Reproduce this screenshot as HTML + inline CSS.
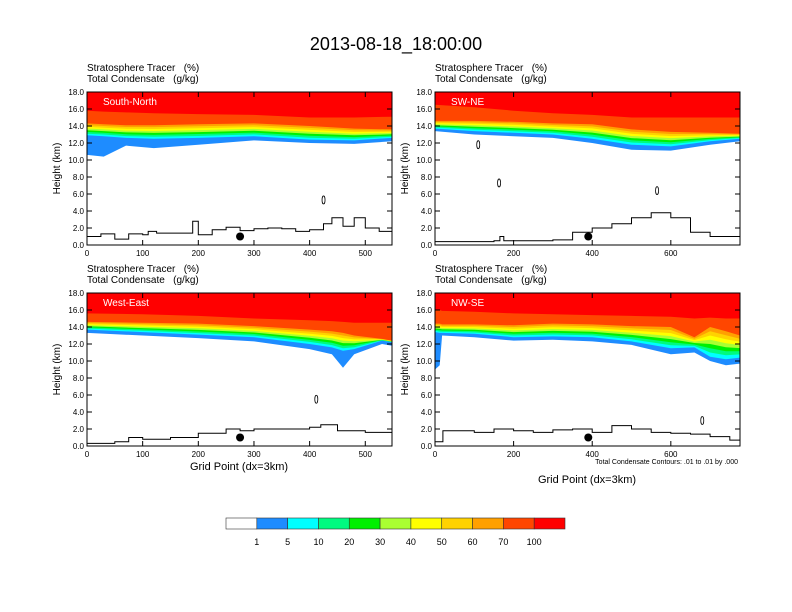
<!DOCTYPE html>
<html><head><meta charset="utf-8"><style>
body{margin:0;background:#fff}
svg{display:block;font-family:"Liberation Sans",sans-serif}
</style></head><body>
<svg id="c" width="792" height="612" viewBox="0 0 792 612">
<text x="396" y="50" font-size="18" text-anchor="middle">2013-08-18_18:00:00</text>
</svg>
<script>
const colors=["#ffffff","#1e8cff","#00ffff","#00fa80","#00f000","#aaff32","#ffff00","#ffd200","#ffa000","#ff4600","#ff0000"];
const cbLabels=["1","5","10","20","30","40","50","60","70","100"];
const panelNames=["South-North","SW-NE","West-East","NW-SE"];
const xMax=[548,776,548,776];
const xTicks=[[0,100,200,300,400,500],[0,200,400,600],[0,100,200,300,400,500],[0,200,400,600]];
const yTicks=[0,2,4,6,8,10,12,14,16,18];
// band boundaries: [x, blueBottom, cyanBottom, orangeBottom, redBottom]
const bands0=[[0,10.6,12.9,14.3,15.8],[30,10.4,12.8,14.2,15.7],[70,11.7,12.6,14.1,15.6],[120,11.4,12.5,14.1,15.5],[200,11.8,12.6,14.2,15.4],[300,12.3,12.8,14.3,15.3],[400,12.0,12.4,14.0,15.0],[480,11.9,12.3,13.7,15.0],[548,12.2,12.6,13.6,15.1]];
const bands1=[[0,13.4,13.7,14.6,16.5],[100,13.0,13.4,14.6,16.2],[200,12.8,13.2,14.5,15.8],[300,12.6,13.0,14.3,15.5],[400,12.0,12.5,14.2,15.3],[500,11.2,11.8,13.6,15.0],[600,11.1,11.6,13.3,15.0],[700,11.8,12.2,13.2,15.0],[776,12.2,12.5,13.1,15.0]];
const bands2=[[0,13.3,13.7,14.6,15.6],[100,13.0,13.4,14.5,15.5],[200,12.7,13.1,14.4,15.3],[300,12.3,12.8,14.1,15.0],[400,11.4,12.0,13.7,14.8],[440,10.8,11.6,13.5,14.7],[460,9.2,11.2,13.3,14.6],[480,10.8,11.4,13.0,14.5],[530,12.0,12.4,12.6,14.5],[548,11.8,12.2,12.4,14.5]];
const bands3=[[0,9.0,13.4,14.4,16.0],[12,9.5,13.3,14.4,16.0],[18,13.0,13.3,14.3,15.9],[100,12.8,13.2,14.3,15.8],[200,12.4,12.8,14.2,15.6],[300,12.5,12.9,14.4,15.5],[400,12.3,12.8,14.3,15.4],[500,11.9,12.3,14.1,15.3],[600,10.8,11.5,14.0,15.2],[660,11.0,11.6,12.8,15.0],[700,10.0,10.5,14.0,15.1],[740,9.5,10.2,13.5,15.0],[776,9.7,10.4,13.0,15.0]];
const terr0=[[0,1.0],[25,1.3],[50,0.7],[75,1.3],[100,1.2],[110,1.6],[125,1.4],[150,1.4],[180,1.4],[190,2.8],[200,1.2],[225,1.8],[250,2.1],[275,1.7],[300,1.9],[325,2.0],[350,1.9],[375,1.6],[400,1.8],[425,2.5],[440,3.2],[460,2.2],[480,3.2],[500,2.0],[525,1.6],[548,1.9]];
const terr1=[[0,0.4],[100,0.4],[150,0.5],[165,1.0],[175,0.5],[300,0.6],[350,1.5],[400,2.0],[450,2.5],[500,3.2],[550,3.8],[600,3.2],[650,1.5],[700,1.0],[776,0.6]];
const terr2=[[0,0.3],[50,0.5],[75,1.0],[100,0.8],[150,1.0],[200,1.5],[250,2.0],[275,1.8],[300,2.0],[350,2.0],[400,2.2],[420,2.5],[450,1.8],[500,1.6],[548,1.2]];
const terr3=[[0,0.5],[20,1.8],[50,1.8],[100,1.6],[150,2.0],[200,1.8],[250,1.6],[300,1.9],[350,2.0],[400,1.6],[450,2.4],[500,2.0],[550,1.6],[600,1.5],[650,1.4],[700,1.1],[750,0.7],[776,0.3]];
const dotX=[275,390,275,390];
const contours=[[[425,5.3]],[[110,11.8],[163,7.3],[565,6.4]],[[412,5.5]],[[680,3.0]]];
const allBands=[bands0,bands1,bands2,bands3];
const allTerr=[terr0,terr1,terr2,terr3];
const NS="http://www.w3.org/2000/svg";
const svg=document.getElementById('c');
function mk(t,a,p){const e=document.createElementNS(NS,t);for(const k in a)e.setAttribute(k,a[k]);(p||svg).appendChild(e);return e;}
const boxes=[[87,92],[435,92],[87,293],[435,293]];
const W=305,H=153;
for(let p=0;p<4;p++){
  const [x0,y0]=boxes[p];
  const sx=v=>x0+v/xMax[p]*W, sy=v=>y0+H-v/18*H;
  const g=mk('g',{});
  
  
  const clip=mk('clipPath',{id:'cl'+p},g);mk('rect',{x:x0,y:y0,width:W,height:H},clip);
  const pg=mk('g',{'clip-path':'url(#cl'+p+')'},g);
  const b=allBands[p];
  for(let L=1;L<=10;L++){
    const pts=b.map(r=>{let h;
      if(L==1)h=r[1];else if(L==2)h=r[2];else if(L<=9)h=r[2]+(r[3]-r[2])*(L-2)/7;else h=r[4];
      return sx(r[0]).toFixed(1)+','+sy(h).toFixed(1);});
    const poly=mk('polygon',{points:sx(0)+','+sy(18.5)+' '+pts.join(' ')+' '+sx(xMax[p])+','+sy(18.5),fill:colors[L]},pg);
    
    
  }
  const t=allTerr[p];
  let d='';t.forEach((r,i)=>{d+=(i?'H'+sx(r[0]).toFixed(1)+'V':'M'+sx(r[0]).toFixed(1)+',')+sy(r[1]).toFixed(1);});
  const tl=mk('path',{d:d,fill:'none',stroke:'#000','stroke-width':1},pg);
  
  
  contours[p].forEach(c=>{const e=mk('ellipse',{cx:sx(c[0]),cy:sy(c[1]),rx:1.5,ry:4,fill:'none',stroke:'#000','stroke-width':0.8},pg);
    
    });
  const dot=mk('circle',{cx:sx(dotX[p]),cy:sy(1.0),r:4,fill:'#000'},pg);
  
  
  const lab=mk('text',{x:x0+16,y:y0+13,'font-size':10,fill:'#fff'},g);lab.textContent=panelNames[p];
  
  
  mk('rect',{x:x0,y:y0,width:W,height:H,fill:'none',stroke:'#000','stroke-width':1},g);
  yTicks.forEach(v=>{const y=sy(v);mk('line',{x1:x0,x2:x0+5,y1:y,y2:y,stroke:'#000'},g);mk('line',{x1:x0+W-5,x2:x0+W,y1:y,y2:y,stroke:'#000'},g);
    const tx=mk('text',{x:x0-3,y:y+3,'font-size':8,'text-anchor':'end'},g);tx.textContent=v.toFixed(1);
    
    });
  xTicks[p].forEach(v=>{const x=sx(v);mk('line',{x1:x,x2:x,y1:y0+H,y2:y0+H-5,stroke:'#000'},g);mk('line',{x1:x,x2:x,y1:y0,y2:y0+5,stroke:'#000'},g);
    const tx=mk('text',{x:x,y:y0+H+11,'font-size':8,'text-anchor':'middle'},g);tx.textContent=v;
    
    });
  const yt=mk('text',{transform:'translate('+(x0-27)+','+(y0+H/2)+') rotate(-90)','font-size':10,'text-anchor':'middle'},g);yt.textContent='Height (km)';
  
  
  const s1=mk('text',{x:x0,y:y0-21,'font-size':10},g);s1.textContent='Stratosphere Tracer   (%)';s1.style.whiteSpace='pre';
  
  
  const s2=mk('text',{x:x0,y:y0-10,'font-size':10},g);s2.textContent='Total Condensate   (g/kg)';s2.style.whiteSpace='pre';
  
  
}
const xt1=mk('text',{x:239,y:470,'font-size':11,'text-anchor':'middle'});xt1.textContent='Grid Point (dx=3km)';


const xt2=mk('text',{x:587,y:483,'font-size':11,'text-anchor':'middle'});xt2.textContent='Grid Point (dx=3km)';


const cn=mk('text',{x:738,y:464,'font-size':7,'text-anchor':'end'});cn.textContent='Total Condensate Contours: .01 to .01 by .000';


const cb=mk('g',{});


const cbx=226,cbw=339/11;
colors.forEach((c,i)=>{const r=mk('rect',{x:cbx+i*cbw,y:518,width:cbw,height:11,fill:c,stroke:'#333','stroke-width':0.6},cb);
  
  });
cbLabels.forEach((l,i)=>{const t=mk('text',{x:cbx+(i+1)*cbw,y:545,'font-size':9,'text-anchor':'middle'},cb);t.textContent=l;
  
  });
</script>
</body></html>
